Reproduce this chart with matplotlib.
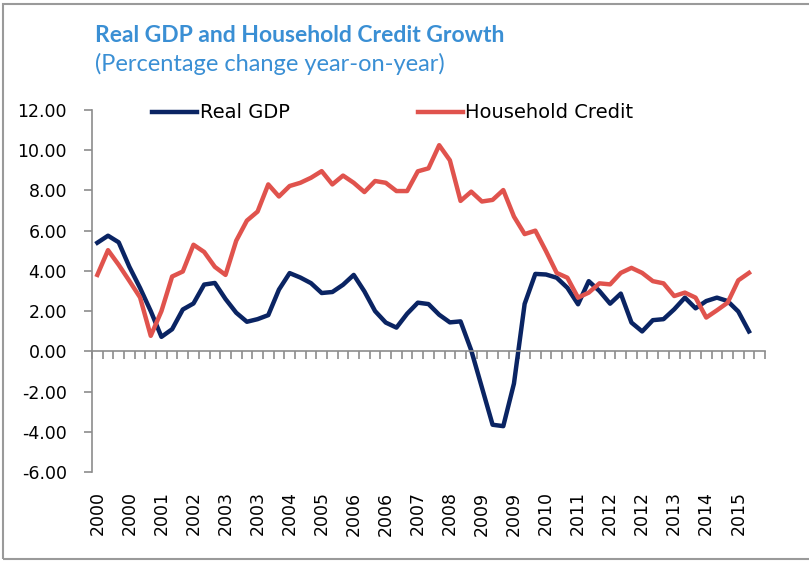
import matplotlib
matplotlib.use('Agg')
import matplotlib.pyplot as plt
from matplotlib.patches import Rectangle
import numpy as np

# quarterly, 2000Q1 .. 2015Q3 (last category empty)
quarters = ['%d Q%d' % (2000 + i // 4, i % 4 + 1) for i in range(63)]
tick_years = [q.split()[0] for q in quarters]

real_gdp = [5.40, 5.75, 5.42, 4.20, 3.15, 2.00, 0.72, 1.10, 2.08, 2.38,
            3.32, 3.40, 2.60, 1.92, 1.47, 1.60, 1.80, 3.07, 3.89, 3.67,
            3.39, 2.90, 2.95, 3.31, 3.80, 2.98, 2.00, 1.43, 1.18, 1.87,
            2.42, 2.35, 1.82, 1.44, 1.49, 0.05, -1.80, -3.65, -3.72, -1.60,
            2.36, 3.85, 3.82, 3.66, 3.16, 2.34, 3.49, 3.00, 2.37, 2.87,
            1.43, 0.99, 1.55, 1.60, 2.09, 2.67, 2.14, 2.50, 2.67, 2.50,
            1.98, 0.99]

household_credit = [3.80, 5.03, 4.30, 3.50, 2.68, 0.77, 2.00, 3.72, 3.97, 5.30,
                    4.94, 4.20, 3.80, 5.50, 6.50, 6.95, 8.30, 7.70, 8.22, 8.38,
                    8.63, 8.96, 8.30, 8.74, 8.38, 7.92, 8.47, 8.38, 7.97, 7.97,
                    8.95, 9.10, 10.25, 9.50, 7.48, 7.94, 7.45, 7.53, 8.02, 6.70,
                    5.83, 6.00, 4.98, 3.90, 3.66, 2.67, 2.92, 3.38, 3.33, 3.90,
                    4.15, 3.90, 3.49, 3.38, 2.75, 2.92, 2.67, 1.68, 2.04, 2.42,
                    3.53, 3.90]

yticks = np.arange(-6, 13, 2)

navy = '#0a2463'
red = '#e0534d'
grey = '#8c8c8c'
title_blue = '#3a8fd4'

fig = plt.figure(figsize=(8.09, 5.63), dpi=100)
ax = fig.add_axes([92 / 809, 1 - 472 / 563, (765 - 92) / 809, (472 - 110) / 563])

x = np.arange(len(real_gdp))
l1, = ax.plot(x, real_gdp, color=navy, lw=3.2, solid_joinstyle='round', label='Real GDP')
l2, = ax.plot(x, household_credit, color=red, lw=3.2, solid_joinstyle='round', label='Household Credit')

ax.set_xlim(-0.5, len(quarters) - 0.5)
ax.set_ylim(-6, 12)
ax.set_yticks(yticks)
ax.set_yticklabels(['%.2f' % v for v in yticks])

# category axis sits on zero, ticks between categories
ax.spines['bottom'].set_position(('data', 0))
for s in ['top', 'right']:
    ax.spines[s].set_visible(False)
for s in ['left', 'bottom']:
    ax.spines[s].set_color(grey)
    ax.spines[s].set_linewidth(1.2)
ax.set_xticks(np.arange(len(quarters) + 1) - 0.5)
ax.set_xticklabels([])
ax.tick_params(axis='x', direction='out', length=6, width=1.2, color=grey)
ax.tick_params(axis='y', direction='out', length=6, width=1.2, color=grey,
               labelsize=12.5, pad=12)

# year labels at the bottom of the plot, every third quarter
sec = ax.secondary_xaxis(0)
sec.spines['bottom'].set_visible(False)
sec.set_xticks(x[::3][:21])
sec.set_xticklabels(tick_years[::3][:21], rotation=90)
sec.tick_params(length=0, pad=14, labelsize=12.5)

fig.legend(handles=[l1, l2], loc='center left', bbox_to_anchor=(152 / 809, 1 - 113 / 563),
           ncol=2, frameon=False, fontsize=14, handlelength=2.3, handletextpad=0.15,
           columnspacing=6.6, borderpad=0, borderaxespad=0)

fig.text(95 / 809, 1 - 35 / 563, 'Real GDP and Household Credit Growth', color=title_blue,
         fontsize=16.5, fontweight='bold', family='Lato', va='center', ha='left')
fig.text(95 / 809, 1 - 64 / 563, '(Percentage change year-on-year)', color=title_blue,
         fontsize=17, family='Lato', va='center', ha='left')

fig.patches.append(Rectangle((3 / 809, 1 - 559 / 563), 820 / 809, 555 / 563,
                             transform=fig.transFigure, fill=False, edgecolor='#9a9a9a',
                             lw=1.5, figure=fig))

fig.savefig('out.png', dpi=100)
